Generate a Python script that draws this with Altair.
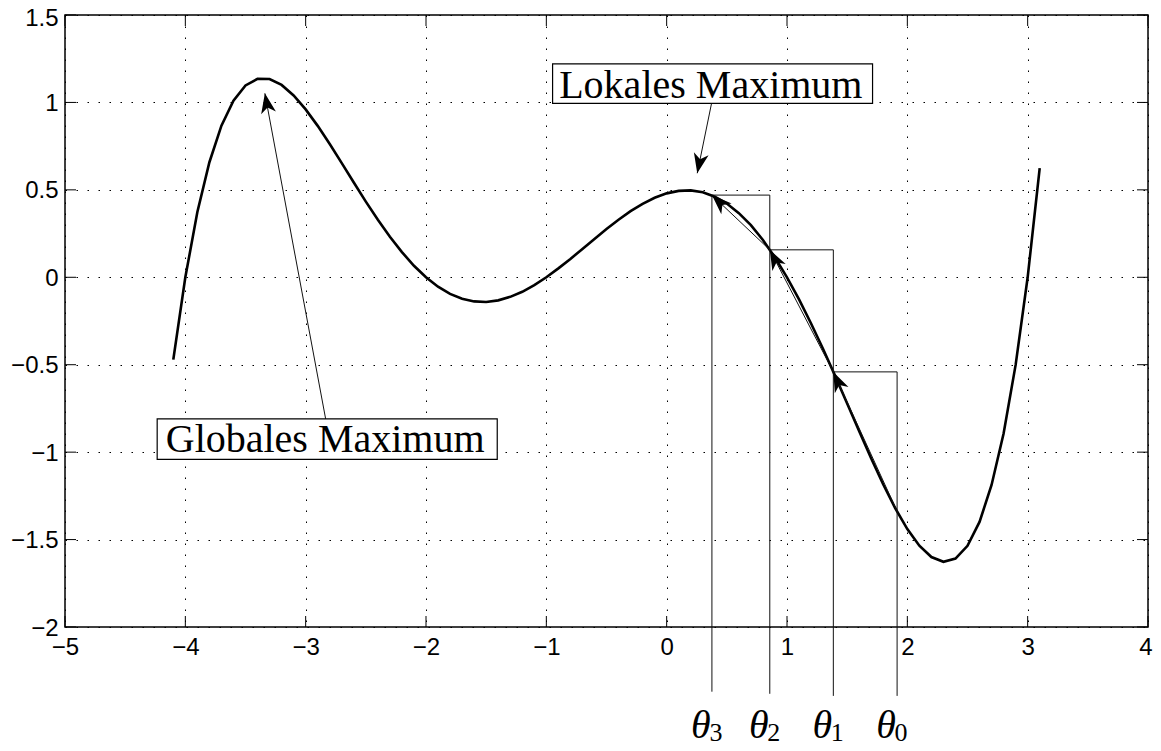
import math
import altair as alt
import pandas as pd

# ---------------- data ----------------
curve_x = [-4.1, -4.0, -3.9, -3.8, -3.7, -3.6, -3.5, -3.4, -3.3, -3.2, -3.1, -3.0,
           -2.9, -2.8, -2.7, -2.6, -2.5, -2.4, -2.3, -2.2, -2.1, -2.0,
           -1.9, -1.8, -1.7, -1.6, -1.5, -1.4, -1.3, -1.2, -1.1, -1.0,
           -0.9, -0.8, -0.7, -0.6, -0.5, -0.4, -0.3, -0.2, -0.1, 0.0,
           0.1, 0.2, 0.3, 0.4, 0.5, 0.6, 0.7, 0.8, 0.9, 1.0,
           1.1, 1.2, 1.3, 1.4, 1.5, 1.6, 1.7, 1.8, 1.9, 2.0,
           2.1, 2.2, 2.3, 2.4, 2.5, 2.6, 2.7, 2.8, 2.9, 3.0, 3.1]
curve_y = [-0.471, 0.000, 0.373, 0.658, 0.867, 1.010, 1.097, 1.135, 1.134, 1.100, 1.040, 0.960,
           0.866, 0.762, 0.653, 0.542, 0.433, 0.329, 0.232, 0.144, 0.066, 0.000,
           -0.054, -0.095, -0.123, -0.138, -0.141, -0.132, -0.112, -0.083, -0.045, 0.000,
           0.051, 0.105, 0.162, 0.219, 0.276, 0.329, 0.378, 0.420, 0.455, 0.480,
           0.494, 0.497, 0.486, 0.461, 0.422, 0.367, 0.298, 0.213, 0.113, 0.000,
           -0.126, -0.264, -0.410, -0.564, -0.722, -0.881, -1.036, -1.185, -1.321, -1.440,
           -1.535, -1.600, -1.627, -1.609, -1.536, -1.399, -1.188, -0.893, -0.501, 0.000, 0.624]

# gradient steps theta_0 .. theta_3
theta_x = [1.915, 1.385, 0.857, 0.376]
theta_y = [-1.338, -0.541, 0.157, 0.470]
theta_bottom = [-2.394, -2.394, -2.382, -2.370]
theta_sub = ["0", "1", "2", "3"]
theta_label_y = -2.634
theta_sub_y = -2.651

x_ticks = [-5, -4, -3, -2, -1, 0, 1, 2, 3, 4]
y_ticks = [-2, -1.5, -1, -0.5, 0, 0.5, 1, 1.5]

notes = ["Lokales Maximum", "Globales Maximum"]
note_x = [0.367, -2.838]
note_y = [1.023, -0.997]
box_x1 = [-0.948, -4.234]
box_x2 = [1.711, -1.408]
box_y1 = [0.995, -1.041]
box_y2 = [1.220, -0.810]
arrow_from_x = [0.373, -2.834]
arrow_from_y = [0.995, -0.810]
arrow_to_x = [0.254, -3.339]
arrow_to_y = [0.595, 1.052]

# ---------------- layout ----------------
W, H = 1083, 612
XD, YD = [-5, 4], [-2, 1.5]
kx = W / (XD[1] - XD[0])
ky = H / (YD[1] - YD[0])
TICK = 11
FONT_SANS = "Liberation Sans"
FONT_SERIF = "Liberation Serif"

xs = alt.Scale(domain=XD, nice=False, zero=False)
ys = alt.Scale(domain=YD, nice=False, zero=False)

FS = "\u2007"
x_axis = alt.Axis(values=x_ticks, grid=True, gridDash=[1.5, 9.5], gridColor="black",
                  gridWidth=1, domain=False, ticks=False, tickSize=0, labelPadding=8,
                  labelOffset={"condition": {"test": "datum.value > 3.5", "value": -2.5},
                               "value": 0},
                  labelFont=FONT_SANS, labelFontSize=24, labelColor="black",
                  labelFlush=False, title=None,
                  labelExpr="datum.value < 0 ? datum.label + '" + FS + "' : datum.label")
y_axis = alt.Axis(values=y_ticks, grid=True, gridDash=[1.5, 9.5], gridColor="black",
                  gridWidth=1, domain=False, ticks=False, tickSize=0, labelPadding=7,
                  labelOffset={"condition": {"test": "datum.value > 1.4", "value": 3.5},
                               "value": 1},
                  labelFont=FONT_SANS, labelFontSize=24, labelColor="black",
                  labelFlush=False, format=".1~f", title=None)


def X(f):
    return alt.X(f, type="quantitative", scale=xs, axis=x_axis)


def Y(f):
    return alt.Y(f, type="quantitative", scale=ys, axis=y_axis)


# segments (thin lines)
seg = []
for k in range(4):
    top = theta_y[k + 1] if k < 3 else theta_y[3]
    seg.append((theta_x[k], top, theta_x[k], theta_bottom[k]))
for k in range(3):
    seg.append((theta_x[k + 1], theta_y[k + 1], theta_x[k], theta_y[k + 1]))
heads = []
for k in range(3):
    seg.append((theta_x[k], theta_y[k], theta_x[k + 1], theta_y[k + 1]))
    heads.append((theta_x[k], theta_y[k], theta_x[k + 1], theta_y[k + 1]))
for i in range(2):
    seg.append((arrow_from_x[i], arrow_from_y[i], arrow_to_x[i], arrow_to_y[i]))
    heads.append((arrow_from_x[i], arrow_from_y[i], arrow_to_x[i], arrow_to_y[i]))
seg_df = pd.DataFrame(seg, columns=["x1", "y1", "x2", "y2"])

head_rows = []
for (fx, fy, tx, ty) in heads:
    dxs = (tx - fx) * kx
    dys = -(ty - fy) * ky
    ang = math.degrees(math.atan2(dxs, -dys)) % 360
    head_rows.append({"x": tx, "y": ty, "angle": ang})
head_df = pd.DataFrame(head_rows)

curve_df = pd.DataFrame({"x": curve_x, "y": curve_y})
xt_df = pd.DataFrame({"t": x_ticks})
yt_df = pd.DataFrame({"t": y_ticks})
box_df = pd.DataFrame({"x1": box_x1, "x2": box_x2, "y1": box_y1, "y2": box_y2})
note_df = pd.DataFrame({"x": note_x, "y": note_y, "text": notes})
th_df = pd.DataFrame({"x": theta_x, "sub": theta_sub,
                      "ly": [theta_label_y] * 4, "sy": [theta_sub_y] * 4})

curve = alt.Chart(curve_df).mark_line(color="black", strokeWidth=2.6).encode(
    x=X("x"), y=Y("y"), order="x:Q")

tick_b = alt.Chart(xt_df).mark_rule(color="black", strokeWidth=1).encode(
    x=X("t"), y=alt.value(H), y2=alt.value(H - TICK))
tick_t = alt.Chart(xt_df).mark_rule(color="black", strokeWidth=1).encode(
    x=X("t"), y=alt.value(0), y2=alt.value(TICK))
tick_l = alt.Chart(yt_df).mark_rule(color="black", strokeWidth=1).encode(
    y=Y("t"), x=alt.value(0), x2=alt.value(TICK))
tick_r = alt.Chart(yt_df).mark_rule(color="black", strokeWidth=1).encode(
    y=Y("t"), x=alt.value(W - TICK), x2=alt.value(W))

segs = alt.Chart(seg_df).mark_rule(color="#111", strokeWidth=1).encode(
    x=X("x1"), y=Y("y1"), x2="x2:Q", y2="y2:Q")

arrowheads = alt.Chart(head_df).mark_point(
    shape="M0,0 L0.375,1 L0,0.72 L-0.375,1 Z", size=1600, filled=True,
    color="black", opacity=1, strokeWidth=0).encode(
    x=X("x"), y=Y("y"), angle=alt.Angle("angle:Q", scale=None))

boxes = alt.Chart(box_df).mark_rect(fill="white", stroke="black", strokeWidth=1.2).encode(
    x=X("x1"), x2="x2:Q", y=Y("y1"), y2="y2:Q")

note_text = alt.Chart(note_df).mark_text(
    font=FONT_SERIF, fontSize=40, align="center", baseline="alphabetic", color="black").encode(
    x=X("x"), y=Y("y"), text="text:N")

theta_text = alt.Chart(th_df).mark_text(
    font=FONT_SERIF, fontSize=40, fontStyle="italic", align="center",
    baseline="alphabetic", color="black", dx=-11).encode(
    x=X("x"), y=Y("ly"), text=alt.value("θ"))
theta_digit = alt.Chart(th_df).mark_text(
    font=FONT_SERIF, fontSize=26, align="center", baseline="alphabetic",
    color="black", dx=4).encode(
    x=X("x"), y=Y("sy"), text="sub:N")

chart = alt.layer(
    curve, tick_b, tick_t, tick_l, tick_r, segs, arrowheads, boxes, note_text,
    theta_text, theta_digit
).properties(
    width=W, height=H,
    autosize=alt.AutoSizeParams(type="none"),
    padding={"left": 57, "top": 7, "right": 5, "bottom": 122},
    background="white",
).configure_view(stroke="black", strokeWidth=1.5)

chart.save("out.html", embed_options={"renderer": "svg", "actions": False})
